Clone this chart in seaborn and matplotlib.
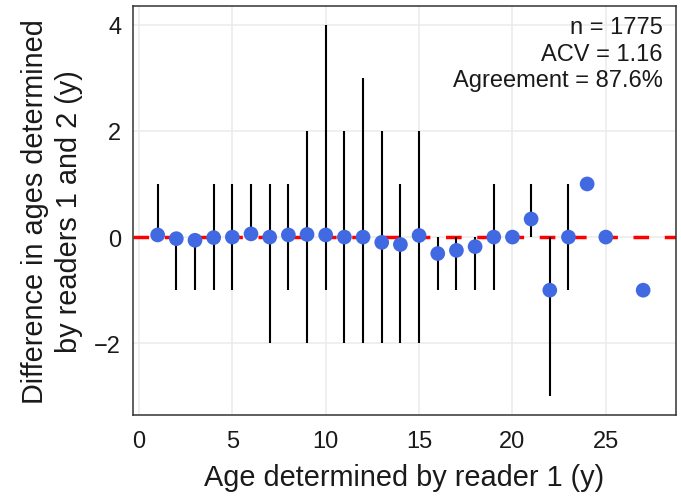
import matplotlib
matplotlib.use("Agg")
import matplotlib.pyplot as plt
import seaborn as sns
import pandas as pd

ages = [1, 2, 3, 4, 5, 6, 7, 8, 9, 10, 11, 12, 13, 14, 15, 16, 17, 18, 19, 20, 21, 22, 23, 24, 25, 27]
mean_diff = [0.04, -0.03, -0.06, -0.01, 0.0, 0.06, 0.0, 0.04, 0.05, 0.04, 0.0, 0.0, -0.10, -0.14,
             0.03, -0.31, -0.25, -0.18, 0.0, 0.0, 0.34, -1.0, 0.0, 1.0, 0.0, -1.0]
min_diff = [0, -1, -1, -1, -1, 0, -2, -1, -2, -1, -2, -2, -2, -2, -2, -1, -1, -1, -1, 0, 0, -3, -1, 1, 0, -1]
max_diff = [1, 0, 0, 1, 1, 1, 1, 1, 2, 4, 2, 3, 2, 1, 2, 0, 0, 0, 1, 0, 1, 0, 1, 1, 0, -1]
x_ticks = [0, 5, 10, 15, 20, 25]
y_ticks = [-2, 0, 2, 4]
stats_lines = ["n = 1775", "ACV = 1.16", "Agreement = 87.6%"]

df = pd.DataFrame({"age": ages, "mean": mean_diff, "lo": min_diff, "hi": max_diff})

sns.set_theme(style="whitegrid")
plt.rcParams["font.family"] = ["Liberation Sans", "DejaVu Sans"]

fig = plt.figure(figsize=(6.81, 5.02), dpi=100)
ax = fig.add_axes([0.1953, 0.1713, 0.7974, 0.8147])

ax.axhline(0, color="#FF0000", linestyle=(0, (4.5, 4.5)), linewidth=2.5, zorder=1)
ax.vlines(df["age"], df["lo"], df["hi"], color="black", linewidth=1.5, zorder=2)
sns.scatterplot(data=df, x="age", y="mean", ax=ax, color="#4169E1", s=112,
                edgecolor="none", zorder=3, legend=False)

ax.set_xlim(-0.32, 28.76)
ax.set_ylim(-3.35, 4.35)
ax.set_xticks(x_ticks)
ax.set_yticks(y_ticks)
ax.set_xticklabels([str(t) for t in x_ticks])
ax.set_yticklabels([str(t).replace("-", "\u2212") for t in y_ticks])
ax.grid(True, color="#EBEBEB", linewidth=1.1)
ax.set_axisbelow(True)
for s in ax.spines.values():
    s.set_color("#333333")
    s.set_linewidth(1.1)
ax.tick_params(axis="both", which="major", direction="out", length=4.5, width=1,
               color="#333333", labelsize=17, labelcolor="#1A1A1A")
ax.tick_params(axis="x", pad=6)
ax.tick_params(axis="y", pad=4)

ax.set_xlabel("Age determined by reader 1 (y)", fontsize=20.8, color="#1A1A1A", labelpad=8)
ax.set_ylabel("Difference in ages determined\nby readers 1 and 2 (y)", fontsize=20.8,
              color="#1A1A1A", labelpad=8, linespacing=1.3)

ax.text(0.976, 0.975, "\n".join(stats_lines), transform=ax.transAxes, ha="right", va="top",
        fontsize=17, color="#1A1A1A", linespacing=1.25)

fig.savefig("out.png", dpi=100)
